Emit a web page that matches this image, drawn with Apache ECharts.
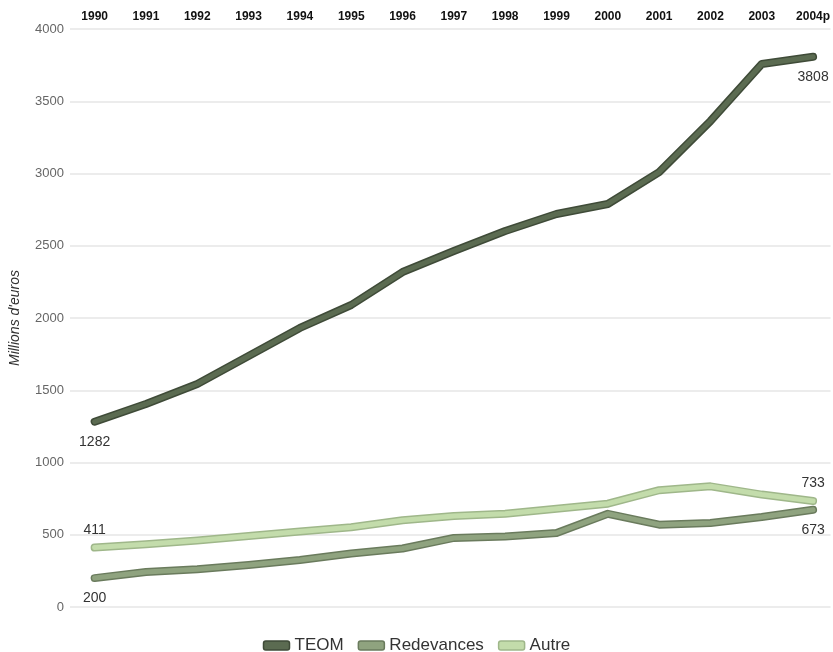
<!DOCTYPE html>
<html>
<head>
<meta charset="utf-8">
<script src="https://cdn.jsdelivr.net/npm/echarts@6/dist/echarts.min.js"></script>
<style>
  html, body { margin: 0; padding: 0; background: #fff; }
  #chart { width: 833px; height: 652px; }
</style>
</head>
<body>
<div id="chart"></div>
<script>
// Financement du service déchets, en millions d'euros
const years = ['1990','1991','1992','1993','1994','1995','1996','1997','1998','1999','2000','2001','2002','2003','2004p'];
const teom = [1282, 1405, 1543, 1737, 1931, 2090, 2318, 2464, 2602, 2720, 2789, 3010, 3363, 3758, 3808];
const redevances = [200, 242, 262, 290, 325, 370, 405, 478, 488, 512, 645, 570, 581, 623, 673];
const autre = [411, 435, 460, 492, 522, 552, 600, 630, 645, 680, 715, 808, 835, 778, 733];
const yTicks = [0, 500, 1000, 1500, 2000, 2500, 3000, 3500, 4000];

const styles = {
  TEOM:       { fill: '#5b6b51', edge: '#3f4b38' },
  Redevances: { fill: '#8fa37f', edge: '#6a7b5d' },
  Autre:      { fill: '#c3dcab', edge: '#9fb78a' }
};

const labelFont = { fontFamily: 'Liberation Sans, Arial, sans-serif', fontSize: 14, color: '#333' };

// only the first and last points carry a value label
function pts(values, firstPos, lastPos) {
  const gap = p => (p === 'top' ? 10 : 13);
  return values.map((v, i) => {
    const item = { value: [i, v] };
    if (i === 0) item.label = Object.assign({ show: true, position: firstPos, distance: gap(firstPos) }, labelFont);
    if (i === values.length - 1) item.label = Object.assign({ show: true, position: lastPos, distance: gap(lastPos), offset: [6, 0] }, labelFont);
    return item;
  });
}

function pair(name, values, firstPos, lastPos, z) {
  const s = styles[name];
  return [
    {
      name: name + '-edge', type: 'line', silent: true, showSymbol: false, z: z,
      data: values.map((v, i) => [i, v]),
      lineStyle: { color: s.edge, width: 8, cap: 'round', join: 'round' },
      label: { show: false }, emphasis: { disabled: true }
    },
    {
      name: name, type: 'line', showSymbol: true, showAllSymbol: true, symbol: 'circle', symbolSize: 1, z: z + 1,
      data: pts(values, firstPos, lastPos),
      itemStyle: { color: s.fill },
      lineStyle: { color: s.fill, width: 5, cap: 'round', join: 'round' },
      labelLayout: { hideOverlap: false },
      emphasis: { disabled: true }
    }
  ];
}

const chart = echarts.init(document.getElementById('chart'), null, { renderer: 'canvas' });
chart.setOption({
  backgroundColor: '#ffffff',
  animation: false,
  grid: { left: 65, right: 0, top: 29, bottom: 45 },
  xAxis: {
    type: 'value', position: 'top', min: -0.48, max: 14.34,
    axisLine: { show: false }, axisTick: { show: false }, splitLine: { show: false },
    axisLabel: {
      customValues: years.map((_, i) => i),
      formatter: v => years[Math.round(v)] || '',
      fontFamily: 'Liberation Sans, Arial, sans-serif', fontWeight: 'bold',
      fontSize: 12, color: '#111', margin: 6
    }
  },
  yAxis: {
    type: 'value', min: 0, max: 4000, interval: 500,
    name: "Millions d'euros", nameLocation: 'middle', nameGap: 48,
    nameTextStyle: { fontFamily: 'Liberation Sans, Arial, sans-serif', fontStyle: 'italic', fontSize: 14, color: '#333' },
    axisLine: { show: false }, axisTick: { show: false },
    axisLabel: {
      customValues: yTicks,
      formatter: v => String(v),
      fontFamily: 'Liberation Sans, Arial, sans-serif', fontSize: 13, color: '#666', margin: 6
    },
    splitLine: { lineStyle: { color: '#ececec', width: 2 } }
  },
  legend: {
    top: 632, left: 'center', itemGap: 14, itemWidth: 26, itemHeight: 9, icon: 'roundRect',
    textStyle: { fontFamily: 'Liberation Sans, Arial, sans-serif', fontSize: 17, color: '#333' },
    data: ['TEOM', 'Redevances', 'Autre'].map(n => ({
      name: n, itemStyle: { color: styles[n].fill, borderColor: styles[n].edge, borderWidth: 1.5 }
    }))
  },
  series: [].concat(
    pair('Redevances', redevances, 'bottom', 'bottom', 2),
    pair('Autre', autre, 'top', 'top', 4),
    pair('TEOM', teom, 'bottom', 'bottom', 6)
  )
});
</script>
</body>
</html>
